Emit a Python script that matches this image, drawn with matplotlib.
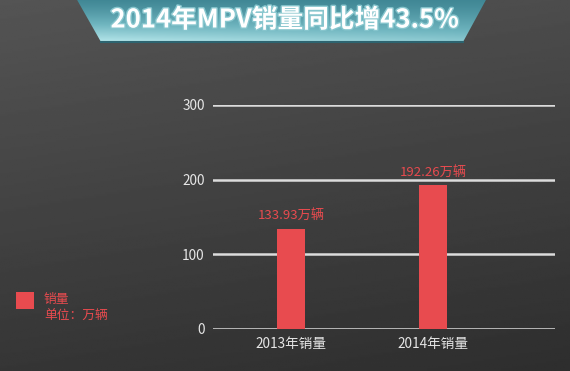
import numpy as np
import matplotlib
matplotlib.use("Agg")
import matplotlib.pyplot as plt
from matplotlib.patches import Polygon, Rectangle
import matplotlib.patheffects as pe

plt.rcParams['font.family'] = ['Noto Sans CJK SC', 'DejaVu Sans']

# 数据
categories = ["2013年销量", "2014年销量"]
sales = [133.93, 192.26]
value_labels = ["133.93万辆", "192.26万辆"]
y_ticks = [0, 100, 200, 300]
title = "2014年MPV销量同比增43.5%"

RED = "#e84b4f"

fig = plt.figure(figsize=(5.7, 3.71), dpi=100)

# 背景渐变
bg = fig.add_axes([0, 0, 1, 1])
yy, xx = np.mgrid[0:1:200j, 0:1:300j]
shade = 0.30 - 0.12 * yy + 0.03 * (1 - xx)
bg.imshow(shade, cmap="gray", vmin=0, vmax=1, aspect="auto", extent=[0, 1, 0, 1], origin="upper")
bg.set_xlim(0, 1)
bg.set_ylim(0, 1)
bg.axis("off")

# 标题横幅
W, H = 570, 371
def fx(px):
    return px / W
def fy(py):
    return 1 - py / H

banner = Polygon([(fx(76), fy(-2)), (fx(487), fy(-2)), (fx(463), fy(42)), (fx(101), fy(42))],
                 closed=True, transform=bg.transAxes, facecolor="none", edgecolor="none")
bg.add_patch(banner)
gy = np.linspace(0, 1, 100).reshape(-1, 1)
gx = np.linspace(0, 1, 50).reshape(1, -1)
grad = np.clip(gy ** 1.3 * (1.0 - 0.3 * gx), 0, 1)
bcmap = matplotlib.colors.LinearSegmentedColormap.from_list("b", ["#3f8694", "#6fb5bf", "#b8e8ec"])
im = bg.imshow(grad, cmap=bcmap, aspect="auto", extent=[fx(76), fx(487), fy(42), fy(-2)], origin="upper")
im.set_clip_path(banner)
bg.plot([fx(101), fx(463)], [fy(41.5), fy(41.5)], color="#2d6470", lw=1.5)
bg.text(fx(285), fy(20), title, color="white", fontsize=18.5, fontweight="bold",
        ha="center", va="center",
        path_effects=[pe.withStroke(linewidth=2, foreground="#86c5cd")])

# 图例
bg.add_patch(Rectangle((fx(16), fy(309)), 18 / W, 17 / H, facecolor=RED, edgecolor="none"))
bg.text(fx(44), fy(300), "销量", color=RED, fontsize=9.2, va="center", ha="left")
bg.text(fx(44), fy(316), "单位：万辆", color=RED, fontsize=9.2, va="center", ha="left")

# 柱状图
ax = fig.add_axes([213 / W, 1 - 329 / H, 342 / W, 224 / H])
ax.patch.set_alpha(0)
x = np.arange(len(categories))
ax.bar(x, sales, width=0.2, color=RED, zorder=3)
for xi, v, lab in zip(x, sales, value_labels):
    ax.text(xi, v + 9, lab, color=RED, fontsize=9.5, ha="center", va="bottom")

ax.set_xlim(-0.55, 1.86)
ax.set_ylim(0, 300)
ax.set_yticks(y_ticks)
ax.set_xticks(x)
ax.set_xticklabels(categories)
ax.grid(axis="y", color="#dcdcdc", lw=1.8, zorder=1)
ax.set_axisbelow(True)
for s in ax.spines.values():
    s.set_visible(False)
ax.tick_params(axis="both", length=0, colors="#e6e6e6", labelsize=9.8)
ax.tick_params(axis="y", pad=6)
ax.tick_params(axis="x", pad=6)

fig.savefig("out.png", dpi=100)
